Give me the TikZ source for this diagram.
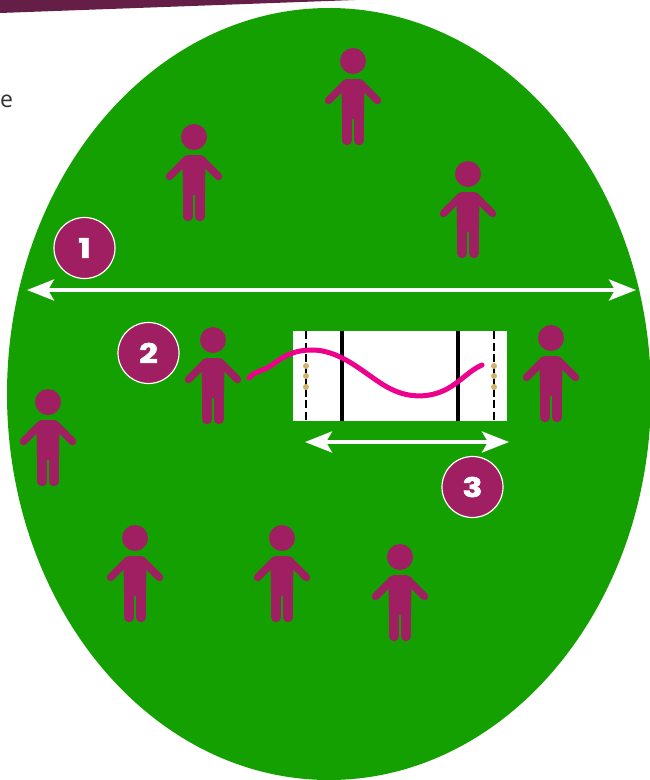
\documentclass[tikz,border=0pt]{standalone}
\usepackage{fontspec}
\setmainfont{Open Sans}
\newfontfamily\numfont[BoldFeatures={FakeBold=2.2,FakeStretch=1.22}]{Poppins}
\usetikzlibrary{arrows.meta}
\definecolor{pitchgreen}{HTML}{14A000}
\definecolor{plum}{HTML}{A01F62}
\definecolor{barplum}{HTML}{651F47}
\definecolor{hotpink}{HTML}{EC008C}
\definecolor{stump}{HTML}{D2B06F}
\tikzset{
  x=1pt,y=-1pt,
  person/.pic={
    \fill[plum] (0,0) circle[radius=13];
    \draw[plum,line width=7.5,line cap=round] (-8,23) -- (-24.5,39.5) (8,23) -- (24.5,39.5);
    \fill[plum,rounded corners=5] (-11.5,18) -- (11.5,18) -- (11,58) -- (-11,58) -- cycle;
    \draw[plum,line width=9.5,line cap=round] (-5.8,50) -- (-5.8,79.5) (5.8,50) -- (5.8,79.5);
  },
  badge/.style={circle,draw=white,fill=plum,line width=1.2,minimum size=61,inner sep=0,text=white,font=\numfont\bfseries\fontsize{27}{27}\selectfont},
  white arrow/.style={draw=white,line width=4,{Stealth[length=27,width=21,inset=6]}-{Stealth[length=27,width=21,inset=6]}},
  crease/.style={line width=3.2,black},
  popcrease/.style={line width=1.6,black,dash pattern=on 8 off 3.5},
  dot/.style={fill=stump,circle,inner sep=0,minimum size=6},
}
\begin{document}
\begin{tikzpicture}
\useasboundingbox (0,0) rectangle (650,780);
\fill[white] (0,0) rectangle (650,780);
\fill[barplum] (0,0) -- (355,0) -- (0,13) -- cycle;
\node[anchor=base west,inner sep=0,text=black!80,font=\fontsize{23}{23}\selectfont] (frag) at (0,107) {e};
\fill[pitchgreen] (329,394) circle[x radius=322,y radius=386];
\foreach \n/\x/\y in {p1/353/61,p2/194/137,p3/468/174,p4/213/340,p5/551/338,p6/48/402,p7/135/538,p8/282/538,p9/400/557}
  \pic (\n) at (\x,\y) {person};
\fill[white] (293,331) rectangle (507,421);
\draw[crease] (342,331) -- (342,421);
\draw[crease] (458,331) -- (458,421);
\draw[popcrease] (306,331) -- (306,421);
\draw[popcrease] (494,331) -- (494,421);
\draw[hotpink,line width=5,line cap=round]
  (249,378) .. controls (256,370) and (262,372) .. (272,365)
  .. controls (285,355) and (295,350) .. (312,350)
  .. controls (345,350) and (370,380) .. (393,390)
  .. controls (410,398) and (430,398) .. (447,389)
  .. controls (460,382) and (470,370) .. (482,365);
\foreach \n/\x/\y in {d1/306/366,d2/306/376,d3/306/387,d4/494/366,d5/494/376,d6/494/387}
  \node[dot] (\n) at (\x,\y) {};
\coordinate (a1l) at (27,290); \coordinate (a1r) at (636,290);
\coordinate (a2l) at (305,442); \coordinate (a2r) at (509,442);
\draw[white arrow] (a1l) -- (a1r);
\draw[white arrow] (a2l) -- (a2r);
\node[badge] (b1) at (84.5,248) {1};
\node[badge] (b2) at (148.5,353) {2};
\node[badge] (b3) at (472.5,487) {3};
\end{tikzpicture}
\end{document}
